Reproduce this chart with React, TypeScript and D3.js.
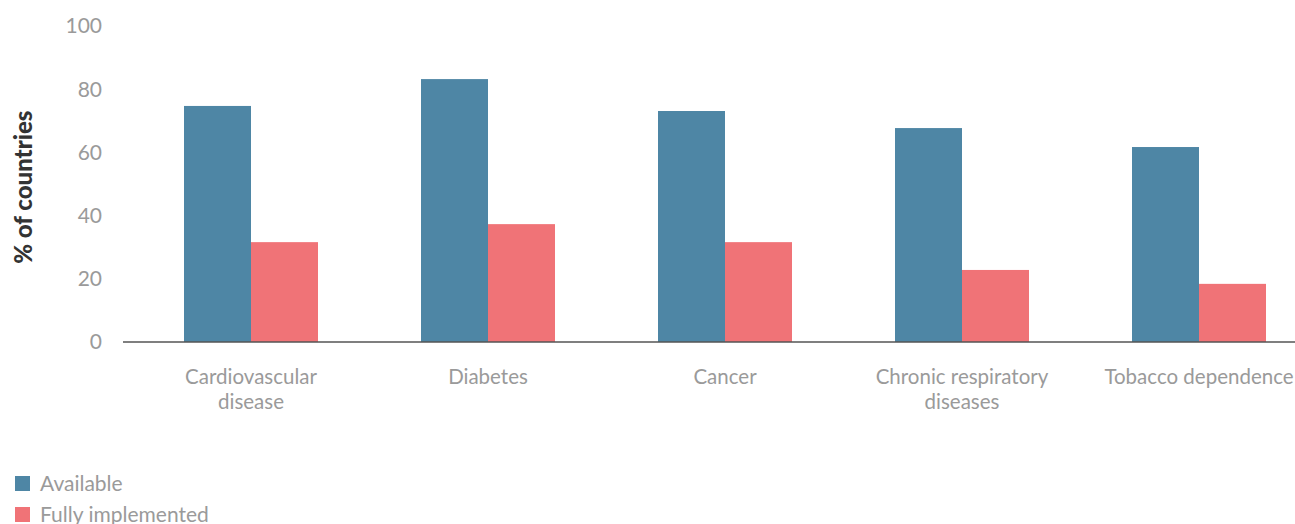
import React from "react";
import * as d3 from "d3";

const categories = ["Cardiovascular disease", "Diabetes", "Cancer", "Chronic respiratory diseases", "Tobacco dependence"];
const categoryLines = [["Cardiovascular", "disease"], ["Diabetes"], ["Cancer"], ["Chronic respiratory", "diseases"], ["Tobacco dependence"]];
const available = [74.7, 83.2, 73.1, 67.7, 61.7];
const fullyImplemented = [31.6, 37.3, 31.6, 22.8, 18.4];
const seriesNames = ["Available", "Fully implemented"];
const yTicks = [0, 20, 40, 60, 80, 100];

const COLORS = ["#4E86A5", "#F07377"];
const FONT = "Lato, 'Open Sans', sans-serif";

export default function App() {
  const W = 1295, H = 524;
  const x = d3.scaleBand<string>().domain(categories).range([132.5, 1317.5]).paddingInner(0).paddingOuter(0);
  const y = d3.scaleLinear().domain([0, 100]).range([342, 26]);
  const barW = 67;
  const series = [available, fullyImplemented];

  return (
    <svg width={W} height={H} style={{ position: "absolute", left: 0, top: 0, background: "#fff" }} fontFamily={FONT}>
      {yTicks.map((t) => (
        <text key={t} x={102} y={y(t)} dy="0.35em" textAnchor="end" fontSize={21} fill="#9a9a9a">{t}</text>
      ))}
      <text transform={`translate(32,${y(49)}) rotate(-90)`} textAnchor="middle" fontSize={24} fontWeight={900} fill="#333">% of countries</text>
      {categories.map((c, i) => {
        const cx = (x(c) as number) + x.bandwidth() / 2;
        return (
          <g key={c}>
            {series.map((s, j) => (
              <rect key={j} x={cx - barW + j * barW} y={y(s[i])} width={barW} height={y(0) - y(s[i])} fill={COLORS[j]} />
            ))}
            {categoryLines[i].map((ln, k) => (
              <text key={k} x={cx} y={384 + k * 25} textAnchor="middle" fontSize={20.5} fill="#9a9a9a">{ln}</text>
            ))}
          </g>
        );
      })}
      <line x1={123} x2={1295} y1={y(0)} y2={y(0)} stroke="#555" strokeWidth={1.5} />
      {seriesNames.map((n, j) => (
        <g key={n}>
          <rect x={15} y={476 + j * 31} width={15} height={15} fill={COLORS[j]} />
          <text x={40} y={491 + j * 31} fontSize={21} fill="#9a9a9a">{n}</text>
        </g>
      ))}
    </svg>
  );
}
